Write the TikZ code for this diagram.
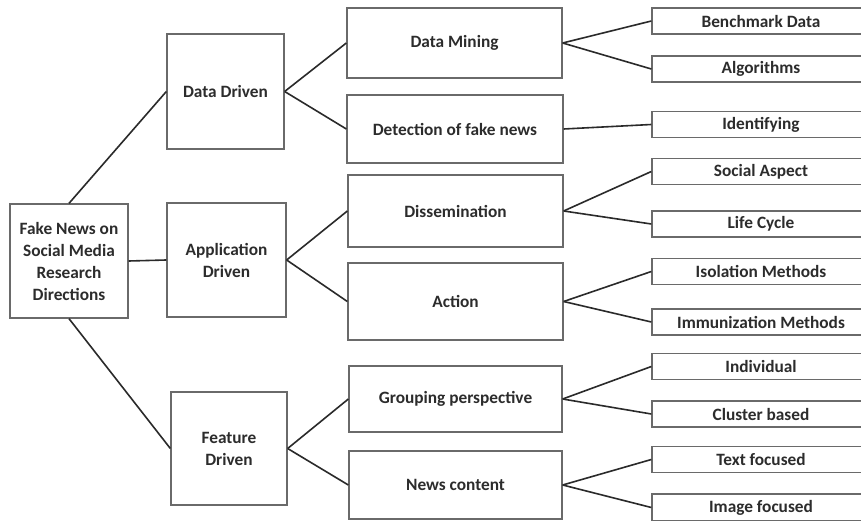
\documentclass[tikz,border=0pt]{standalone}
\usepackage{fontspec}
\setmainfont{Carlito}
\definecolor{boxline}{HTML}{6A6A6A}
\definecolor{linkline}{HTML}{2A2A2A}
\definecolor{labeltext}{HTML}{2C2C2C}
\tikzset{
  box/.style={draw=boxline, line width=1.3pt, fill=white, inner sep=0pt,
    align=center, text=labeltext,
    font=\bfseries\fontsize{17.3}{22}\selectfont},
  leafbox/.style={box, minimum width=218pt, minimum height=26pt},
  link/.style={draw=linkline, line width=1.6pt}
}
\begin{document}
\begin{tikzpicture}[x=1pt,y=-1pt]
\useasboundingbox (0,0) rectangle (861,521);
\clip (0,0) rectangle (861,521);
\fill[white] (0,0) rectangle (861,521);

% root and first level
\node[box, minimum width=118pt, minimum height=114pt] (root) at (69,261)
  {Fake News on\\Social Media\\Research\\Directions};
\node[box, minimum width=117pt, minimum height=115pt] (dd) at (225.5,91.5) {Data Driven};
\node[box, minimum width=119pt, minimum height=114pt] (ad) at (226.5,260) {Application\\Driven};
\node[box, minimum width=116pt, minimum height=113pt] (fd) at (229,448.5) {Feature\\Driven};

% second level
\node[box, minimum width=215pt, minimum height=70pt] (dm) at (454.5,43) {Data Mining};
\node[box, minimum width=216pt, minimum height=68pt] (det) at (455,129) {Detection of fake news};
\node[box, minimum width=215pt, minimum height=72pt] (dis) at (455.5,211) {Dissemination};
\node[box, minimum width=215pt, minimum height=77pt] (act) at (455.5,301.5) {Action};
\node[box, minimum width=213pt, minimum height=66pt] (grp) at (455.5,399) {Grouping perspective};
\node[box, minimum width=213pt, minimum height=68pt] (news) at (455.5,485) {News content};

% leaves
\node[leafbox] (bd)  at (761,21)    {Benchmark Data};
\node[leafbox] (alg) at (761,69)    {Algorithms};
\node[leafbox] (idn) at (761,124.5) {Identifying};
\node[leafbox] (sa)  at (761,171.5) {Social Aspect};
\node[leafbox] (lc)  at (761,224)   {Life Cycle};
\node[leafbox] (iso) at (761,271.5) {Isolation Methods};
\node[leafbox] (imm) at (761,322)   {Immunization Methods};
\node[leafbox] (ind) at (761,366.5) {Individual};
\node[leafbox] (clu) at (761,414)   {Cluster based};
\node[leafbox] (txt) at (761,459.5) {Text focused};
\node[leafbox, minimum height=27pt] (img) at (761,507.5) {Image focused};

% connectors
\draw[link] (root.north) -- (dd.west);
\draw[link] (root.east) -- (ad.west);
\draw[link] (root.south) -- (fd.west);

\draw[link] (dd.east) -- (dm.west);
\draw[link] (dd.east) -- (det.west);
\draw[link] (ad.east) -- (dis.west);
\draw[link] (ad.east) -- (act.west);
\draw[link] (fd.east) -- (grp.west);
\draw[link] (fd.east) -- (news.west);

\draw[link] (dm.east) -- (bd.west);
\draw[link] (dm.east) -- (alg.west);
\draw[link] (det.east) -- (idn.west);
\draw[link] (dis.east) -- (sa.west);
\draw[link] (dis.east) -- (lc.west);
\draw[link] (act.east) -- (iso.west);
\draw[link] (act.east) -- (imm.west);
\draw[link] (grp.east) -- (ind.west);
\draw[link] (grp.east) -- (clu.west);
\draw[link] (news.east) -- (txt.west);
\draw[link] (news.east) -- (img.west);
\end{tikzpicture}
\end{document}
